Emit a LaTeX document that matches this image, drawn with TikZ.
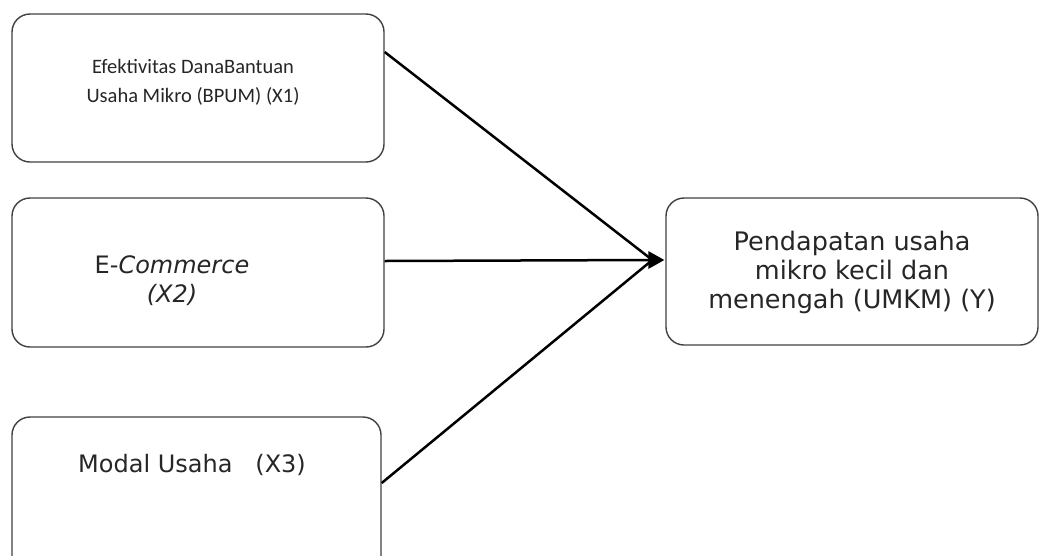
\documentclass[tikz,border=0pt]{standalone}
\usepackage{fontspec}
\setmainfont{DejaVu Sans}
\newfontfamily\smallbox{Carlito}
\usetikzlibrary{arrows.meta,calc}

\tikzset{
  varbox/.style={draw=black!75, line width=1.4pt, rounded corners=18pt,
    rectangle, inner sep=0pt},
  boxtext/.style={align=center, text=black!85, font=\fontsize{24}{29}\selectfont},
  link/.style={draw=black, line width=2.5pt},
}

\begin{document}
\begin{tikzpicture}[x=1pt, y=-1pt]
  \useasboundingbox (0,0) rectangle (1040,555);
  \clip (0,0) rectangle (1040,555);

  % independent variables
  \node[varbox, minimum width=372pt, minimum height=148pt] (b1) at (198,88) {};
  \node[varbox, minimum width=372pt, minimum height=149pt] (b2) at (198,272.5) {};
  \node[varbox, minimum width=369pt, minimum height=158pt] (b3) at (196.5,496) {};
  % dependent variable
  \node[varbox, minimum width=372pt, minimum height=147pt] (y) at (852,271.5) {};

  % labels
  \node[align=center, text=black!85, font=\smallbox\fontsize{20.5}{29}\selectfont]
    (t1) at (193,82) {Efektivitas DanaBantuan\\Usaha Mikro (BPUM) (X1)};
  \node[boxtext] (t2) at (172,281) {E-\textit{Commerce}\\\textit{(X2)}};
  \node[boxtext] (t3) at (192,465) {Modal Usaha\ \ \ (X3)};
  \node[boxtext, font=\fontsize{25.5}{29}\selectfont] (ty) at (852,272)
    {Pendapatan usaha\\mikro kecil dan\\menengah (UMKM) (Y)};

  % connectors meeting at the dependent box
  \coordinate (tip) at ([xshift=-1pt, yshift=11.5pt]y.west);
  \coordinate (base) at ([xshift=-12pt]tip);
  \draw[link] ([yshift=36pt]b1.east) -- (base);
  \draw[link] ([yshift=13pt]b3.east) -- (base);
  \draw[link] ([yshift=11.5pt]b2.east) -- (base);
  % shared arrowhead
  \fill[black] (tip) -- ([shift={(-16pt,9pt)}]tip) -- ([shift={(-16pt,-9pt)}]tip) -- cycle;
\end{tikzpicture}
\end{document}
